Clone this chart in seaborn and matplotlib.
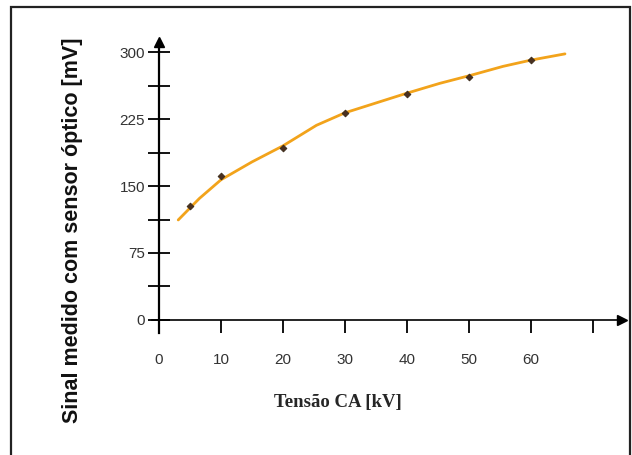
import matplotlib
matplotlib.use("Agg")
import matplotlib.pyplot as plt
from matplotlib.patches import Rectangle
import seaborn as sns
import pandas as pd

# measured points
tensao_kv = [5, 10, 20, 30, 40, 50, 60]
sinal_mv = [128, 161, 193, 232, 253, 272, 291]

# fitted curve
curva_kv = [3.1, 6.5, 10, 15, 20, 25.4, 30, 35, 40, 45.3, 50.3, 55.5, 60, 65.5]
curva_mv = [112, 136, 157, 177, 195, 218, 232, 243, 254, 265, 274, 284, 291, 298]

xticks = [0, 10, 20, 30, 40, 50, 60, 70]
xticklabels = ["0", "10", "20", "30", "40", "50", "60", ""]
yticks_major = [0, 75, 150, 225, 300]
yticks_minor = [37.5, 112.5, 187.5, 262.5]

sns.set_style("white")
plt.rcParams["font.family"] = ["Liberation Sans", "DejaVu Sans"]

W, H = 632, 455
fig = plt.figure(figsize=(W / 100, H / 100), dpi=100)
ax = fig.add_axes([152 / W, 122 / H, 470 / W, 291 / H])

df_c = pd.DataFrame({"x": curva_kv, "y": curva_mv})
df_p = pd.DataFrame({"x": tensao_kv, "y": sinal_mv})
sns.lineplot(data=df_c, x="x", y="y", ax=ax, color="#F2A31B", lw=2.0, sort=True)
sns.scatterplot(data=df_p, x="x", y="y", ax=ax, color="#4a3020", marker="D",
                s=12, edgecolor="#3a2a1a", linewidth=0.6, zorder=5)

ax.set_xlim(-1.13, 74.7)
ax.set_ylim(-14.6, 311.3)

for s in ["top", "right"]:
    ax.spines[s].set_visible(False)
ax.spines["left"].set_position(("data", 0))
ax.spines["bottom"].set_position(("data", 0))
ax.spines["left"].set_linewidth(1.6)
ax.spines["bottom"].set_linewidth(1.2)
ax.spines["left"].set_color("black")
ax.spines["bottom"].set_color("black")

ax.plot(1, 0, ">", color="black", ms=7, transform=ax.get_yaxis_transform(), clip_on=False)
ax.plot(0, 1, "^", color="black", ms=7, transform=ax.get_xaxis_transform(), clip_on=False)

ax.set_xticks(xticks)
ax.set_xticklabels(xticklabels)
ax.set_yticks(yticks_major)
ax.set_yticks(yticks_minor, minor=True)
ax.set_yticklabels([str(v) for v in yticks_major])

ax.tick_params(axis="x", direction="out", length=9, width=1.3, color="black",
               pad=15, labelsize=11, labelcolor="#333333", bottom=True)
ax.tick_params(axis="y", which="major", direction="inout", length=16, width=1.3,
               color="black", pad=2, labelsize=11, labelcolor="#333333", left=True)
ax.tick_params(axis="y", which="minor", direction="inout", length=16, width=1.3,
               color="black", left=True)

ax.set_xlabel("Tensão CA [kV]", family=["Liberation Serif", "DejaVu Serif"],
              fontweight="bold", fontsize=13.5, va="center")
ax.xaxis.set_label_coords((338 - 152) / 470, -70 / 291)
ax.set_ylabel("Sinal medido com sensor óptico [mV]", fontsize=15.5, fontweight="bold",
              va="center", color="#111111")
ax.yaxis.set_label_coords((73 - 152) / 470, (333 - 230) / 291)

fig.patches.append(Rectangle((11 / W, -0.02), (630 - 11) / W, 1.02 - 7 / H,
                             transform=fig.transFigure, fill=False,
                             edgecolor="#222222", lw=1.6))

fig.savefig("out.png", dpi=100, facecolor="white")
